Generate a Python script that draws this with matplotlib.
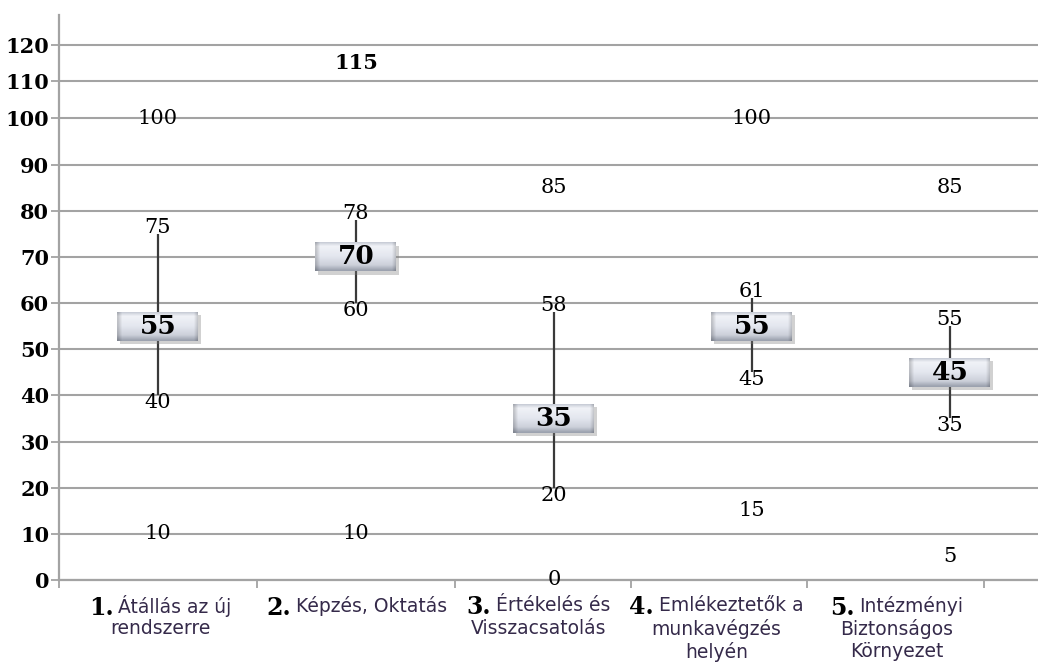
import numpy as np
import matplotlib

matplotlib.use("Agg")

import matplotlib.pyplot as plt
from matplotlib.colors import LinearSegmentedColormap
from matplotlib.patches import Rectangle

# adatok (ábráról leolvasva)
numbers = ["1.", "2.", "3.", "4.", "5."]
labels = [
    ["Átállás az új", "rendszerre"],
    ["Képzés, Oktatás"],
    ["Értékelés és", "Visszacsatolás"],
    ["Emlékeztetők a", "munkavégzés", "helyén"],
    ["Intézményi", "Biztonságos", "Környezet"],
]
maxima = [100, 115, 85, 100, 85]
q3 = [75, 78, 58, 61, 55]
medians = [55, 70, 35, 55, 45]
q1 = [40, 60, 20, 45, 35]
minima = [10, 10, 0, 15, 5]
yticks = list(range(0, 121, 10))

# tengely felső része (100 fölött) az eredetin összenyomott
def fwd(y):
    y = np.asarray(y, dtype=float)
    return np.where(y <= 100, y, 100 + (y - 100) * 0.8)


def inv(y):
    y = np.asarray(y, dtype=float)
    return np.where(y <= 100, y, 100 + (y - 100) / 0.8)


fig = plt.figure(figsize=(10.38, 6.62), dpi=100)
ax = fig.add_axes([0.0568, 0.1239, 0.9538, 0.8534])
ax.set_yscale("function", functions=(fwd, inv))

grid_c = "#a3a3a3"
serif = "DejaVu Serif"
text_c = "#352a4a"

for v in yticks:
    ax.axhline(v, color=grid_c, lw=1.5, zorder=1)

cmap = LinearSegmentedColormap.from_list(
    "bevel",
    [(0.0, "#c2c7d2"), (0.15, "#f0f2f7"), (0.5, "#e4e7ef"),
     (0.82, "#ccd0da"), (1.0, "#9ca2af")])
grad = cmap(np.linspace(0, 1, 40))[:, None, :3] * np.ones((1, 60, 1))
edge = np.ones(60)
edge[:3] = [0.82, 0.88, 0.94]
edge[-3:] = [0.94, 0.88, 0.82]
grad = grad * edge[None, :, None]

bw, bh = 0.41, 6.3
x = np.arange(len(medians))
ax.vlines(x, q1, q3, color="#3a3a3a", lw=1.6, zorder=2)

for i in x:
    ax.add_patch(Rectangle((i - bw / 2 + 0.012, medians[i] - bh / 2 - 0.7), bw, bh,
                           facecolor="#7d7d7d", alpha=0.35, lw=0, zorder=3))
    ax.imshow(grad, extent=(i - bw / 2, i + bw / 2, medians[i] - bh / 2, medians[i] + bh / 2),
              aspect="auto", interpolation="bilinear", zorder=4)
    ax.text(i, medians[i], str(medians[i]), ha="center", va="center", fontsize=19,
            fontweight="bold", family=serif, zorder=5)
    ax.annotate(str(q3[i]), (i, q3[i]), xytext=(0, -3), textcoords="offset pixels",
                ha="center", va="bottom", fontsize=15, family=serif, zorder=5)
    ax.annotate(str(q1[i]), (i, q1[i]), xytext=(0, 2), textcoords="offset pixels",
                ha="center", va="top", fontsize=15, family=serif, zorder=5)
    ax.text(i, maxima[i], str(maxima[i]), ha="center", va="center", fontsize=15,
            family=serif, fontweight="bold" if maxima[i] > 100 else "normal", zorder=5)
    ax.text(i, minima[i], str(minima[i]), ha="center", va="center", fontsize=15,
            family=serif, zorder=5)

# kategória-feliratok (az eredetin a tengely alján kicsit eltolva)
label_x = [0.01, 1.005, 1.92, 2.82, 3.73]
tick_x = [-0.5, 0.5, 1.5, 2.39, 3.28, 4.17]
xt = ax.get_xaxis_transform()
for i, lines in enumerate(labels):
    first = ax.annotate(lines[0], (label_x[i], 0), xycoords=xt, xytext=(15, -26),
                        textcoords="offset pixels", ha="center", va="center",
                        fontsize=13.5, color=text_c, annotation_clip=False)
    ax.annotate(numbers[i], (0, 0.42), xycoords=first, xytext=(-5, 0),
                textcoords="offset pixels", ha="right", va="center",
                fontsize=17, fontweight="bold", family=serif, annotation_clip=False)
    for k, line in enumerate(lines[1:], start=1):
        ax.annotate(line, (label_x[i], 0), xycoords=xt, xytext=(0, -26 - 23 * k),
                    textcoords="offset pixels", ha="center", va="center",
                    fontsize=13.5, color=text_c, annotation_clip=False)

ax.set_xlim(-0.5, 4.5)
ax.set_ylim(0, 128)
ax.set_xticks(tick_x)
ax.set_xticklabels([])
ax.set_yticks(yticks)
ax.set_yticklabels([str(v) for v in yticks], fontsize=15, fontweight="bold", family=serif)
ax.yaxis.set_minor_locator(matplotlib.ticker.NullLocator())
ax.tick_params(axis="y", length=6, width=1.3, color=grid_c, pad=1)
ax.tick_params(axis="x", length=6, width=1.3, color=grid_c)
for s in ["top", "right"]:
    ax.spines[s].set_visible(False)
ax.spines["left"].set_color(grid_c)
ax.spines["left"].set_linewidth(1.6)
ax.spines["bottom"].set_color(grid_c)
ax.spines["bottom"].set_linewidth(1.6)

fig.savefig("out.png", dpi=100)
